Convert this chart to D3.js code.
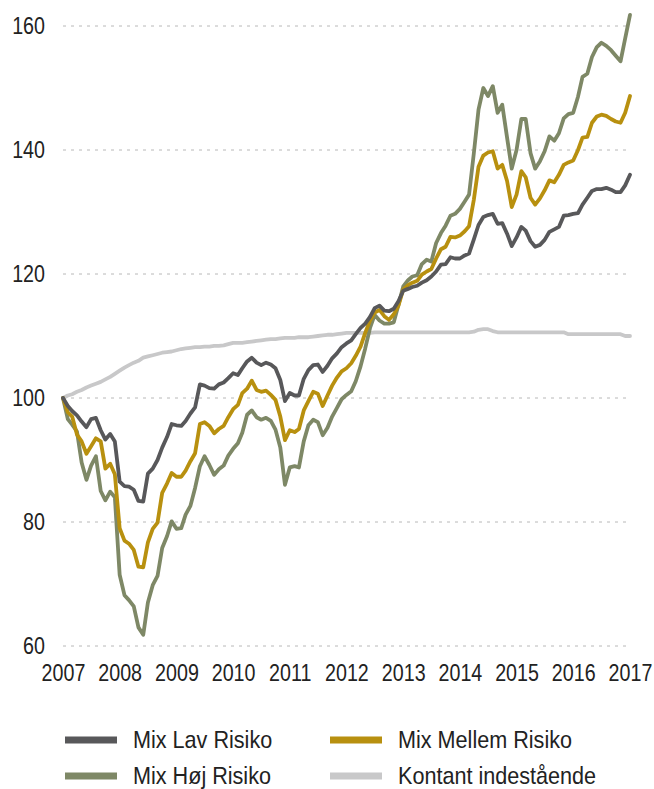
<!DOCTYPE html>
<html>
<head>
<meta charset="utf-8">
<script src="https://cdn.jsdelivr.net/npm/d3@7"></script>
<style>
  body { margin: 0; background: #fff; }
  svg { display: block; font-family: "Liberation Sans", Arial, sans-serif; }
</style>
</head>
<body>
<svg id="chart" width="654" height="789"></svg>
<script>
// monthly index values, Jan 2007 .. Jan 2017 (start = 100)
const lav = [100, 98.7, 97.9, 97.2, 96.2, 95.3, 96.6, 96.8, 94.8, 93.3, 94.2, 93.0,
  86.5, 85.8, 85.7, 85.2, 83.4, 83.3, 87.8, 88.6, 90.0, 92.0, 93.7, 95.8,
  95.6, 95.5, 96.3, 97.5, 98.5, 102.2, 102.0, 101.6, 101.5, 102.2, 102.5, 103.2,
  104.0, 103.7, 104.8, 105.9, 106.5, 105.7, 105.3, 105.7, 105.4, 104.8, 102.9, 99.5,
  100.8, 100.4, 100.4, 103.1, 104.5, 105.3, 105.4, 104.2, 105.2, 106.4, 107.2, 108.2,
  108.8, 109.3, 110.3, 111.3, 112.0, 113.1, 114.5, 114.9, 114.1, 114.0, 114.4, 115.6,
  117.3, 117.6, 117.9, 118.1, 118.6, 119.0, 119.6, 120.4, 121.5, 121.6, 122.7, 122.5,
  122.5, 123.0, 123.3, 125.6, 127.9, 129.2, 129.5, 129.7, 128.1, 128.2, 126.5, 124.5,
  125.9, 127.6, 127.0, 125.3, 124.4, 124.7, 125.5, 126.8, 127.2, 127.6, 129.4, 129.5,
  129.7, 129.8, 131.2, 132.3, 133.4, 133.7, 133.7, 133.9, 133.6, 133.2, 133.2, 134.3,
  136.0];

const mellem = [100, 97.7, 97.0, 94.1, 93.0, 91.0, 92.2, 93.5, 93.0, 88.6, 89.4, 87.7,
  79.0, 77.0, 76.5, 75.5, 72.8, 72.7, 76.7, 78.9, 79.9, 84.7, 86.2, 87.9,
  87.3, 87.3, 88.3, 89.8, 91.1, 95.8, 96.1, 95.5, 94.3, 95.0, 95.5, 96.9,
  98.2, 98.9, 100.8, 101.5, 102.8, 101.3, 101.0, 101.2, 100.5, 99.7, 97.0, 93.2,
  94.8, 94.5, 95.0, 98.0, 99.5, 101.0, 100.7, 98.7, 100.4, 102.0, 103.3, 104.3,
  104.8, 105.6, 106.8, 108.3, 110.5, 112.5, 113.8, 114.2, 113.2, 112.6, 113.5, 114.9,
  117.5, 118.2, 118.6, 118.9, 119.9, 120.4, 120.8, 122.5, 124.0, 124.4, 126.0, 125.9,
  126.2, 126.9, 127.7, 132.0, 137.3, 139.1, 139.6, 139.8, 137.0, 137.6, 135.0, 130.8,
  132.8, 136.6, 135.6, 132.3, 131.2, 132.2, 133.5, 135.1, 134.8, 136.0, 137.6, 138.0,
  138.3, 140.0, 142.0, 142.1, 144.4, 145.4, 145.7, 145.5, 145.0, 144.6, 144.4, 146.0,
  148.7];

const hoj = [100, 96.6, 95.7, 94.6, 89.6, 86.8, 89.1, 90.6, 85.0, 83.5, 84.9, 84.0,
  71.5, 68.2, 67.4, 66.4, 63.0, 61.8, 67.0, 69.8, 71.3, 75.8, 77.7, 80.1,
  78.9, 79.0, 81.2, 82.6, 85.5, 89.0, 90.6, 89.2, 87.6, 88.5, 89.1, 90.7,
  91.8, 92.7, 94.4, 97.3, 98.0, 96.9, 96.5, 96.8, 96.3, 94.9, 92.0, 86.0,
  88.8, 89.0, 88.8, 93.0, 95.6, 96.5, 96.1, 94.0, 95.2, 97.0, 98.4, 99.8,
  100.5, 101.1, 102.7, 105.1, 108.0, 111.3, 113.4, 112.5, 112.0, 112.0, 112.2, 115.0,
  118.0, 119.0, 119.6, 119.8, 121.6, 122.3, 122.0, 125.0, 126.6, 127.8, 129.4, 129.7,
  130.5, 131.7, 132.8, 139.5, 146.5, 150.0, 148.7, 150.3, 146.0, 147.3, 142.0, 137.0,
  140.0, 145.0, 145.0, 139.5, 137.0, 138.2, 139.8, 142.2, 141.5, 142.7, 145.1, 145.8,
  146.0, 148.6, 151.8, 152.3, 155.0, 156.6, 157.3, 156.8, 156.1, 155.2, 154.3, 158.0,
  161.8];

const kontant = [100, 100.4, 100.6, 101.0, 101.3, 101.7, 102.0, 102.3, 102.6, 103.0, 103.4, 103.9,
  104.4, 104.9, 105.3, 105.7, 106.0, 106.5, 106.7, 106.9, 107.1, 107.3, 107.4, 107.5,
  107.7, 107.9, 108.0, 108.1, 108.2, 108.2, 108.3, 108.3, 108.4, 108.4, 108.5, 108.7,
  108.9, 108.9, 108.9, 109.0, 109.1, 109.2, 109.3, 109.4, 109.5, 109.5, 109.6, 109.7,
  109.7, 109.7, 109.8, 109.8, 109.8, 109.9, 110.0, 110.1, 110.2, 110.2, 110.3, 110.4,
  110.5, 110.5, 110.5, 110.5, 110.5, 110.5, 110.6, 110.6, 110.6, 110.6, 110.6, 110.6,
  110.6, 110.6, 110.6, 110.6, 110.6, 110.6, 110.6, 110.6, 110.6, 110.6, 110.6, 110.6,
  110.6, 110.6, 110.6, 110.7, 111.0, 111.1, 111.1, 110.8, 110.6, 110.6, 110.6, 110.6,
  110.6, 110.6, 110.6, 110.6, 110.6, 110.6, 110.6, 110.6, 110.6, 110.6, 110.6, 110.3,
  110.3, 110.3, 110.3, 110.3, 110.3, 110.3, 110.3, 110.3, 110.3, 110.3, 110.3, 110.0,
  110.0];

const years = [2007, 2008, 2009, 2010, 2011, 2012, 2013, 2014, 2015, 2016, 2017];
const yTicks = [60, 80, 100, 120, 140, 160];

const series = [
  { name: "Kontant indestående", values: kontant, color: "#c8c8c9" },
  { name: "Mix Høj Risiko", values: hoj, color: "#7e8866" },
  { name: "Mix Mellem Risiko", values: mellem, color: "#b8900f" },
  { name: "Mix Lav Risiko", values: lav, color: "#58585a" }
];
const legendOrder = ["Mix Lav Risiko", "Mix Mellem Risiko", "Mix Høj Risiko", "Kontant indestående"];

const svg = d3.select("#chart");

const x = d3.scaleTime()
  .domain([new Date(2007, 0, 1), new Date(2017, 0, 1)])
  .range([63, 630]);

const y = d3.scaleLinear()
  .domain([60, 160])
  .range([646, 26]);

// gridlines
svg.append("g")
  .selectAll("line")
  .data(yTicks)
  .join("line")
  .attr("x1", 63)
  .attr("x2", 628)
  .attr("y1", d => y(d))
  .attr("y2", d => y(d))
  .attr("stroke", "#b8b8b8")
  .attr("stroke-width", 1)
  .attr("stroke-dasharray", "3,5");

// y axis labels (condensed look)
const yAxis = svg.append("g")
  .attr("transform", "translate(45,0)")
  .call(d3.axisLeft(y).tickValues(yTicks).tickSize(0).tickPadding(0));
yAxis.select(".domain").remove();
yAxis.selectAll("text")
  .attr("font-size", 24)
  .attr("fill", "#222")
  .attr("font-family", null)
  .attr("transform", "scale(0.82,1)");

// x axis labels
const xAxis = svg.append("g")
  .attr("transform", "translate(0,664)")
  .call(d3.axisBottom(x)
    .tickValues(years.map(yr => new Date(yr, 0, 1)))
    .tickFormat(d3.timeFormat("%Y"))
    .tickSize(0).tickPadding(0));
xAxis.select(".domain").remove();
xAxis.selectAll("text")
  .attr("font-size", 24)
  .attr("fill", "#222")
  .attr("font-family", null)
  .attr("transform", "scale(0.82,1)");

// lines
const line = d3.line()
  .x((d, i) => x(new Date(2007, i, 1)))
  .y(d => y(d));

svg.append("g")
  .selectAll("path")
  .data(series)
  .join("path")
  .attr("d", d => line(d.values))
  .attr("fill", "none")
  .attr("stroke", d => d.color)
  .attr("stroke-width", 3.8)
  .attr("stroke-linejoin", "round")
  .attr("stroke-linecap", "round");

// legend
const legend = svg.append("g")
  .selectAll("g")
  .data(legendOrder.map(n => series.find(s => s.name === n)))
  .join("g")
  .attr("transform", (d, i) => "translate(" + (i % 2 === 0 ? 65 : 330) + "," + (i < 2 ? 740 : 776) + ")");

legend.append("rect")
  .attr("x", 0)
  .attr("y", -3.5)
  .attr("width", 52)
  .attr("height", 7)
  .attr("fill", d => d.color);

legend.append("g")
  .attr("transform", "translate(68,8) scale(0.9,1)")
  .append("text")
  .attr("font-size", 24)
  .attr("fill", "#222")
  .text(d => d.name);
</script>
</body>
</html>
